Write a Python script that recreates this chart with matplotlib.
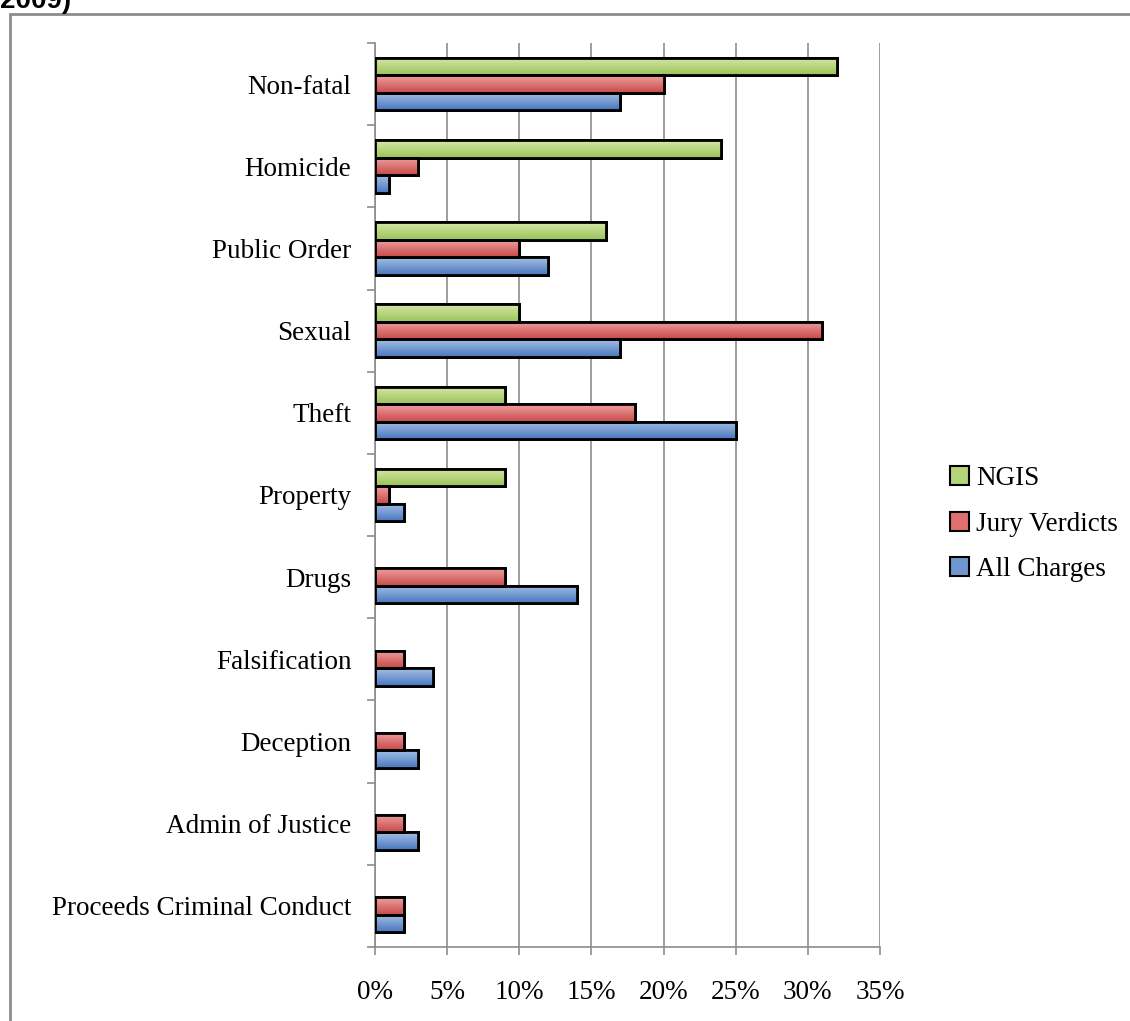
import numpy as np
import matplotlib.pyplot as plt
from matplotlib.patches import Rectangle
from matplotlib.colors import LinearSegmentedColormap

categories = ["Non-fatal", "Homicide", "Public Order", "Sexual", "Theft", "Property",
              "Drugs", "Falsification", "Deception", "Admin of Justice",
              "Proceeds Criminal Conduct"]
ngis = [32, 24, 16, 10, 9, 9, 0, 0, 0, 0, 0]
jury_verdicts = [20, 3, 10, 31, 18, 1, 9, 2, 2, 2, 2]
all_charges = [17, 1, 12, 17, 25, 2, 14, 4, 3, 3, 2]
xticks = [0, 5, 10, 15, 20, 25, 30, 35]

series = [
    ("NGIS", ngis, "#b4d47a", ("#d6e8a8", "#9bc35a")),
    ("Jury Verdicts", jury_verdicts, "#e06f6f", ("#f0a0a0", "#c84a4a")),
    ("All Charges", all_charges, "#6e96cf", ("#a3c0e6", "#4a78bd")),
]

plt.rcParams['font.family'] = ['Liberation Serif', 'DejaVu Serif']

fig = plt.figure(figsize=(11.3, 10.21), dpi=100)

# outer frame (right / bottom edges fall outside the picture)
fig.patches.append(Rectangle((10 / 1130, -0.05), 1.2, 1 - 14 / 1021 + 0.05,
                             transform=fig.transFigure, fill=False,
                             edgecolor="#8c8c8c", linewidth=2))
fig.text(0.0, 1.012, "2009)", fontsize=20, fontweight="bold",
         family="Liberation Sans", va="top", ha="left")

ax = fig.add_axes([375 / 1130, 1 - 947 / 1021, 505 / 1130, 904 / 1021])

y = np.arange(len(categories))
h = 0.213
for i, (name, vals, col, grad) in enumerate(series):
    bars = ax.barh(y + (i - 1) * h, vals, height=h, color=col, edgecolor="black",
                   linewidth=2, label=name, zorder=3)
    cmap = LinearSegmentedColormap.from_list(name, [grad[0], grad[1]])
    for b in bars:
        if b.get_width() <= 0:
            b.set_visible(False)
            continue
        x0, y0 = b.get_x(), b.get_y()
        im = ax.imshow(np.linspace(0, 1, 50).reshape(-1, 1), cmap=cmap, aspect="auto",
                       extent=(x0, x0 + b.get_width(), y0 + b.get_height(), y0),
                       origin="upper", zorder=3.5)
        im.set_clip_path(b)
        ax.add_patch(Rectangle((x0, y0), b.get_width(), b.get_height(), fill=False,
                               edgecolor="black", linewidth=2, zorder=4))

ax.set_xlim(0, 35)
ax.set_ylim(len(categories) - 0.5, -0.5)
ax.set_xticks(xticks)
ax.set_xticklabels([f"{v}%" for v in xticks], fontsize=19.5)
ax.set_yticks(y)
ax.set_yticklabels(categories, fontsize=19.5)
ax.set_yticks(np.arange(len(categories) + 1) - 0.5, minor=True)
ax.tick_params(axis="y", which="major", length=0, pad=17)
ax.tick_params(axis="y", which="minor", length=6, color="#8c8c8c", width=1.2)
ax.tick_params(axis="x", length=6, color="#8c8c8c", width=1.2, pad=18)
ax.grid(axis="x", color="#8c8c8c", linewidth=1.2, zorder=0)
for s in ["top", "right"]:
    ax.spines[s].set_visible(False)
for s in ["left", "bottom"]:
    ax.spines[s].set_color("#8c8c8c")
    ax.spines[s].set_linewidth(1.2)

handles = [Rectangle((0, 0), 1, 1, facecolor=c, edgecolor="black", linewidth=1.5)
           for _, _, c, _ in series]
fig.legend(handles, [s[0] for s in series], loc="center left",
           bbox_to_anchor=(926 / 1130, 1 - 524 / 1021), frameon=False, fontsize=19.5,
           handlelength=0.7, handleheight=0.7, handletextpad=0.25, labelspacing=0.75)

fig.savefig("out.png", dpi=100)
